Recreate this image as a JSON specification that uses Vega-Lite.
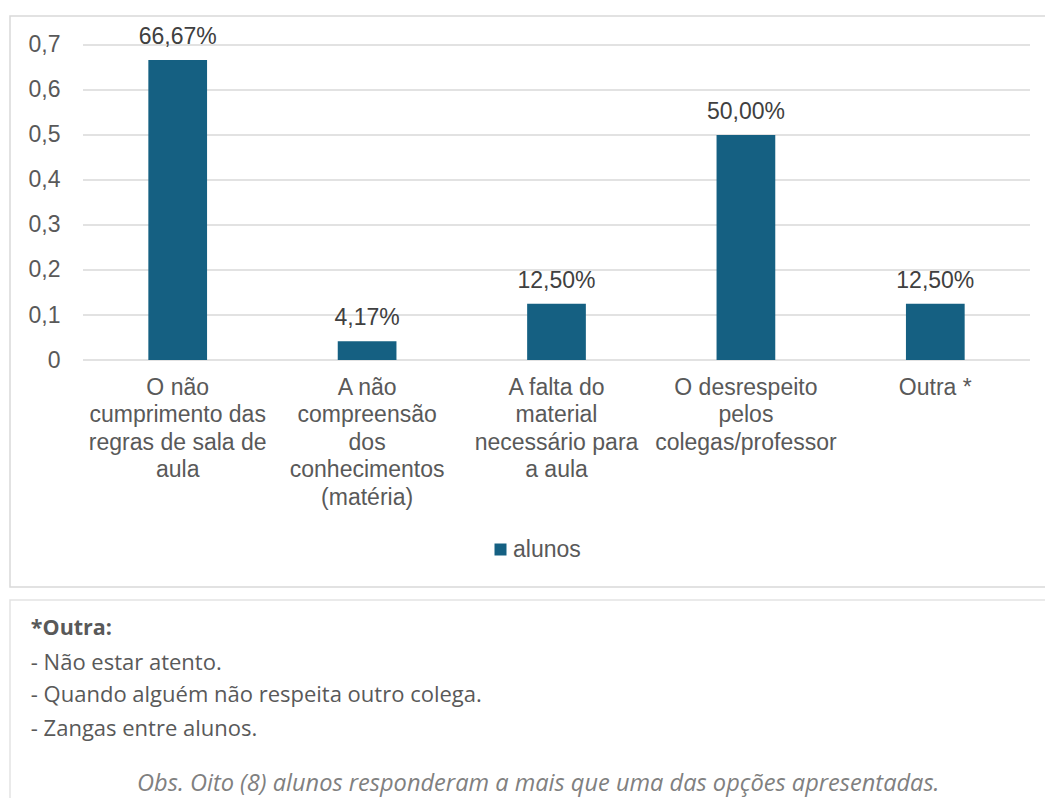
{
  "$schema": "https://vega.github.io/schema/vega-lite/v6.json",
  "padding": {"left": 9, "top": 15, "right": 0, "bottom": 0},
  "background": "white",
  "spacing": 11,
  "config": {
    "locale": {"number": {"decimal": ",", "thousands": ".", "grouping": [3], "currency": ["", " €"]}},
    "font": "Liberation Sans",
    "view": {"stroke": "#d9d9d9", "strokeWidth": 1.5}
  },
  "datasets": {
    "bars": [
      {"motivo": "O não|cumprimento das|regras de sala de|aula", "valor": 0.6667, "serie": "alunos"},
      {"motivo": "A não|compreensão|dos|conhecimentos|(matéria)", "valor": 0.0417, "serie": "alunos"},
      {"motivo": "A falta do|material|necessário para|a aula", "valor": 0.125, "serie": "alunos"},
      {"motivo": "O desrespeito|pelos|colegas/professor", "valor": 0.5, "serie": "alunos"},
      {"motivo": "Outra *", "valor": 0.125, "serie": "alunos"}
    ],
    "grid": [
      {"g": 0}, {"g": 0.1}, {"g": 0.2}, {"g": 0.3}, {"g": 0.4}, {"g": 0.5}, {"g": 0.6}, {"g": 0.7}
    ],
    "notes": [
      {"texto": "*Outra:", "linha": 0.87, "h": 0.02, "tipo": "titulo"},
      {"texto": "- Não estar atento.", "linha": 1.89, "h": 0.02, "tipo": "item"},
      {"texto": "- Quando alguém não respeita outro colega.", "linha": 2.85, "h": 0.02, "tipo": "item"},
      {"texto": "- Zangas entre alunos.", "linha": 3.87, "h": 0.02, "tipo": "item"},
      {"texto": "Obs. Oito (8) alunos responderam a mais que uma das opções apresentadas.", "linha": 5.52, "h": 0.508, "tipo": "obs"}
    ]
  },
  "vconcat": [
    {
      "width": 1040,
      "height": 571,
      "layer": [
        {
          "data": {"name": "grid"},
          "mark": {"type": "rule", "color": "#d9d9d9", "strokeWidth": 1.5},
          "encoding": {
            "x": {"datum": "O não|cumprimento das|regras de sala de|aula", "type": "nominal", "bandPosition": 0},
            "x2": {"datum": "Outra *", "bandPosition": 1},
            "y": {"field": "g", "type": "quantitative"}
          }
        },
        {
          "data": {"name": "bars"},
          "mark": {"type": "bar", "width": {"band": 0.31}},
          "encoding": {
            "x": {
              "field": "motivo", "type": "nominal", "sort": null,
              "scale": {
                "domain": [
                  "O não|cumprimento das|regras de sala de|aula",
                  "A não|compreensão|dos|conhecimentos|(matéria)",
                  "A falta do|material|necessário para|a aula",
                  "O desrespeito|pelos|colegas/professor",
                  "Outra *"
                ],
                "paddingInner": 0, "paddingOuter": 0.2455, "align": 0.785
              },
              "axis": {
                "title": null, "orient": "bottom", "offset": -227, "domain": false, "ticks": false,
                "labelAngle": 0, "labelAlign": "center", "labelPadding": 27, "labelFontSize": 23, "labelLineHeight": 27.6,
                "labelColor": "#595959", "labelLimit": 0,
                "labelExpr": "split(datum.value, '|')"
              }
            },
            "y": {
              "field": "valor", "type": "quantitative",
              "scale": {"domain": [-0.5044, 0.7644], "nice": false, "zero": false},
              "axis": {
                "title": null, "orient": "left", "offset": -73, "domain": false, "ticks": false, "grid": false,
                "values": [0, 0.1, 0.2, 0.3, 0.4, 0.5, 0.6, 0.7], "format": ".1~f",
                "labelPadding": 23, "labelFontSize": 23, "labelColor": "#595959"
              }
            },
            "color": {
              "field": "serie", "type": "nominal",
              "scale": {"range": ["#156082"]},
              "legend": {
                "title": null, "orient": "none", "legendX": 479, "legendY": 522,
                "symbolType": "square", "symbolSize": 144, "symbolStrokeWidth": 0,
                "labelFontSize": 23, "labelColor": "#595959", "labelOffset": 1, "padding": 0
              }
            }
          }
        },
        {
          "data": {"name": "bars"},
          "mark": {"type": "text", "baseline": "alphabetic", "dy": -16, "fontSize": 23, "color": "#404040"},
          "encoding": {
            "x": {"field": "motivo", "type": "nominal", "sort": null},
            "y": {"field": "valor", "type": "quantitative"},
            "text": {"field": "valor", "type": "quantitative", "format": ".2%"}
          }
        }
      ]
    },
    {
      "width": 1040,
      "height": 210,
      "view": {"stroke": "#e3e3e3", "strokeWidth": 1.5},
      "data": {"name": "notes"},
      "encoding": {
        "x": {"field": "h", "type": "quantitative", "scale": {"domain": [0, 1]}, "axis": null},
        "y": {"field": "linha", "type": "quantitative", "scale": {"domain": [0, 6.3], "reverse": true}, "axis": null},
        "text": {"field": "texto", "type": "nominal"}
      },
      "layer": [
        {
          "transform": [{"filter": "datum.tipo == 'titulo'"}],
          "mark": {"type": "text", "align": "left", "baseline": "middle", "font": "Open Sans", "fontSize": 21.5, "fontWeight": "bold", "color": "#595959"}
        },
        {
          "transform": [{"filter": "datum.tipo == 'item'"}],
          "mark": {"type": "text", "align": "left", "baseline": "middle", "font": "Open Sans", "fontSize": 22, "color": "#595959"}
        },
        {
          "transform": [{"filter": "datum.tipo == 'obs'"}],
          "mark": {"type": "text", "align": "center", "baseline": "middle", "font": "Open Sans", "fontSize": 23.6, "fontStyle": "italic", "color": "#808080"}
        }
      ]
    }
  ]
}
